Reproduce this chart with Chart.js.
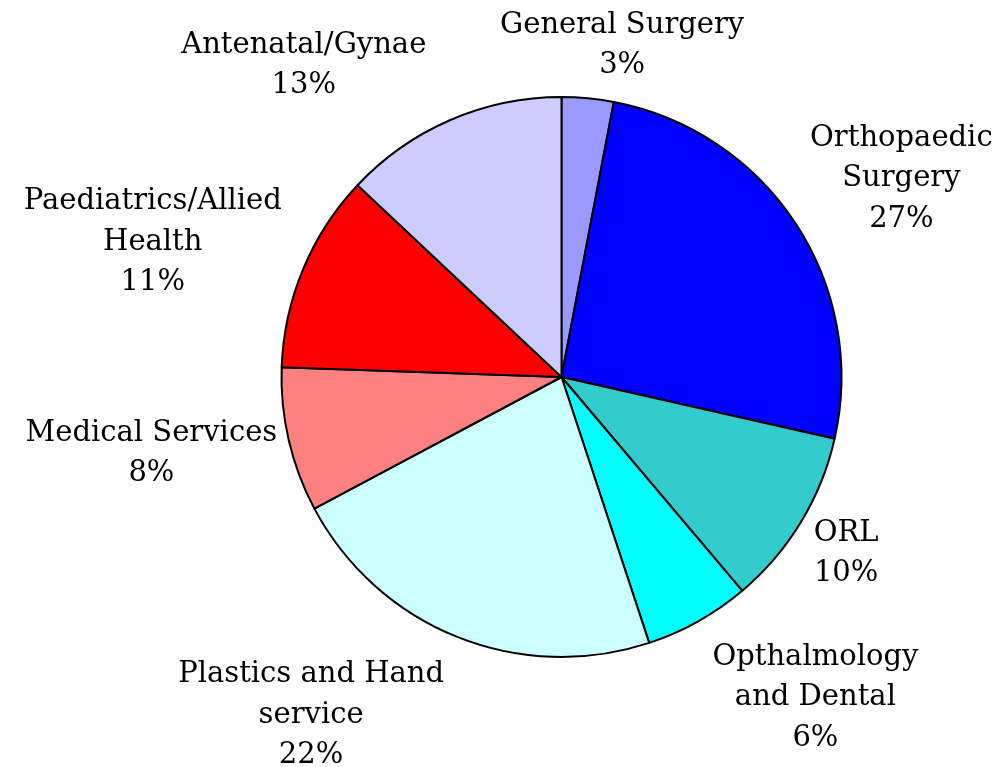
<!DOCTYPE html>
<html>
<head>
<meta charset="utf-8">
<script src="https://cdn.jsdelivr.net/npm/chart.js@4"></script>
<style>
  html, body { margin: 0; padding: 0; background: #ffffff; }
  #wrap { width: 1004px; height: 767px; }
</style>
</head>
<body>
<div id="wrap"><canvas id="c" width="1004" height="767"></canvas></div>
<script>
// ---- data ----
const categories = ['General Surgery', 'Orthopaedic Surgery', 'ORL', 'Opthalmology and Dental',
  'Plastics and Hand service', 'Medical Services', 'Paediatrics/Allied Health', 'Antenatal/Gynae'];
const shares = [2.99, 25.55, 10.29, 6.10, 22.28, 8.35, 11.45, 12.99];
const percentLabels = ['3%', '27%', '10%', '6%', '22%', '8%', '11%', '13%'];
const labelLines = [
  ['General Surgery'],
  ['Orthopaedic', 'Surgery'],
  ['ORL'],
  ['Opthalmology', 'and Dental'],
  ['Plastics and Hand', 'service'],
  ['Medical Services'],
  ['Paediatrics/Allied', 'Health'],
  ['Antenatal/Gynae']
];

// ---- styles ----
const sliceColors = ['#9999FF', '#0000FF', '#33CCCC', '#00FFFF', '#CCFFFF', '#FF8080', '#FF0000', '#CCCCFF'];
const FONT = '29px "DejaVu Serif"';
const LINE_H = 40.3;
const CAP_HALF = 10.5;
const LABEL_GAP = 10;
// label nudges relative to the outside-end anchor
const labelNudge = [[22, -6], [21, -9], [9, 2], [62, 12], [-93, 10], [-5, -1], [-22, -3], [-94, -11]];

const outsideLabels = {
  id: 'outsideLabels',
  afterDraw(chart) {
    const ctx = chart.ctx;
    const meta = chart.getDatasetMeta(0);
    ctx.save();
    ctx.font = FONT;
    ctx.fillStyle = '#000000';
    ctx.textAlign = 'center';
    ctx.textBaseline = 'alphabetic';
    meta.data.forEach((arc, i) => {
      const p = arc.getProps(['x', 'y', 'startAngle', 'endAngle', 'outerRadius'], true);
      const mid = (p.startAngle + p.endAngle) / 2;
      const lines = labelLines[i].concat([percentLabels[i]]);
      const w = Math.max(...lines.map(l => ctx.measureText(l).width));
      const h = lines.length * LINE_H;
      const r = p.outerRadius + LABEL_GAP;
      const ax = p.x + Math.cos(mid) * r;
      const ay = p.y + Math.sin(mid) * r;
      const cx = ax + Math.cos(mid) * w / 2 + labelNudge[i][0];
      const cy = ay + Math.sin(mid) * h / 2 + labelNudge[i][1];
      lines.forEach((l, k) => {
        const ly = cy + (k - (lines.length - 1) / 2) * LINE_H + CAP_HALF;
        ctx.fillText(l, cx, ly);
      });
    });
    ctx.restore();
  }
};

new Chart(document.getElementById('c'), {
  type: 'pie',
  data: {
    labels: categories,
    datasets: [{
      data: shares,
      backgroundColor: sliceColors,
      borderColor: '#000000',
      borderWidth: 2,
      hoverOffset: 0
    }]
  },
  options: {
    responsive: false,
    animation: false,
    radius: 280,
    layout: { padding: { left: 129, right: 10, top: 10, bottom: 23 } },
    plugins: {
      legend: { display: false },
      tooltip: { enabled: false }
    },
    events: []
  },
  plugins: [outsideLabels]
});
</script>
</body>
</html>
